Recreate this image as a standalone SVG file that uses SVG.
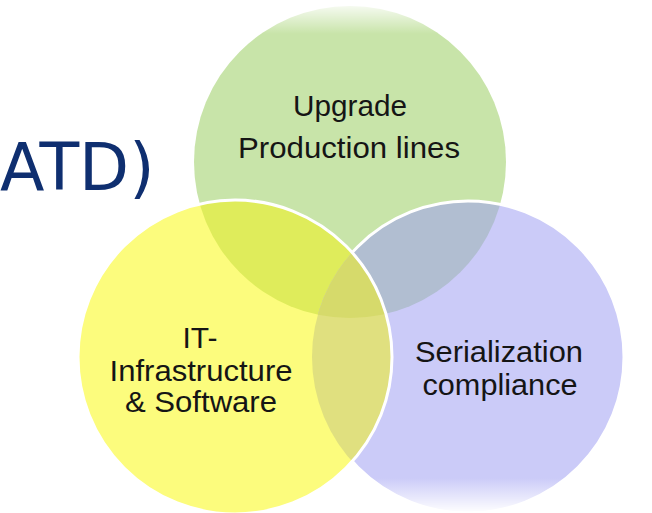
<svg xmlns="http://www.w3.org/2000/svg" width="652" height="513" viewBox="0 0 652 513">
<style>
.lbl{font-family:"Liberation Sans",Arial,sans-serif;font-size:30px;fill:#151515;text-anchor:middle}
.sm{font-size:29px}
.ttl{font-family:"DejaVu Sans",Verdana,sans-serif;font-size:65px;fill:#0f2f70}
</style>
<defs>
<clipPath id="cG"><circle cx="350" cy="162" r="156"/></clipPath>
<clipPath id="cY"><circle cx="235" cy="357" r="157"/></clipPath>
<clipPath id="cB"><circle cx="468" cy="357" r="156"/></clipPath>
<clipPath id="notY"><path clip-rule="evenodd" d="M0 0H652V513H0Z M78 357a157 157 0 1 0 314 0a157 157 0 1 0 -314 0Z"/></clipPath>
<linearGradient id="fadeTop" x1="0" y1="0" x2="0" y2="1">
<stop offset="0" stop-color="#fff" stop-opacity="1"/>
<stop offset="1" stop-color="#fff" stop-opacity="0"/>
</linearGradient>
<linearGradient id="fadeBot" x1="0" y1="0" x2="0" y2="1">
<stop offset="0" stop-color="#fff" stop-opacity="0"/>
<stop offset="1" stop-color="#fff" stop-opacity="1"/>
</linearGradient>
</defs>
<rect width="652" height="513" fill="#fff"/>
<g id="title"><text class="ttl" x="0" y="190">ATD)</text></g>
<g id="circle-green">
<circle cx="350" cy="162" r="156" fill="#c8e4a9"/>
<rect x="180" y="0" width="340" height="34" fill="url(#fadeTop)"/>
</g>
<g id="circle-blue">
<circle cx="468" cy="357" r="156" fill="#cbcbf8"/>
<rect x="300" y="478" width="340" height="35" fill="url(#fadeBot)"/>
</g>
<g id="circle-yellow">
<circle cx="235" cy="357" r="157" fill="#fcfc7d"/>
</g>
<g id="overlaps">
<g clip-path="url(#cG)"><circle cx="235" cy="357" r="157" fill="#dfec5b"/></g>
<g clip-path="url(#cG)"><circle cx="468" cy="357" r="156" fill="#b1bed1"/></g>
<g clip-path="url(#cY)"><circle cx="468" cy="357" r="156" fill="#e0e07f"/></g>
<g clip-path="url(#cY)"><g clip-path="url(#cB)"><circle cx="350" cy="162" r="156" fill="#d6da6b"/></g></g>
</g>
<g id="outlines">
<circle cx="468" cy="357" r="156" fill="none" stroke="#fff" stroke-width="3" clip-path="url(#notY)"/>
<circle cx="235" cy="357" r="157" fill="none" stroke="#fff" stroke-width="3"/>
</g>
<g id="label-green">
<text class="lbl" x="350" y="116" textLength="114" lengthAdjust="spacingAndGlyphs">Upgrade</text>
<text class="lbl" x="349" y="158" textLength="222" lengthAdjust="spacingAndGlyphs">Production lines</text>
</g>
<g id="label-yellow">
<text class="lbl" x="200" y="348">IT-</text>
<text class="lbl" x="201" y="381" textLength="183" lengthAdjust="spacingAndGlyphs">Infrastructure</text>
<text class="lbl" x="201" y="412" textLength="152" lengthAdjust="spacingAndGlyphs">&amp; Software</text>
</g>
<g id="label-blue">
<text class="lbl sm" x="499" y="362" textLength="168" lengthAdjust="spacingAndGlyphs">Serialization</text>
<text class="lbl sm" x="500" y="395" textLength="155" lengthAdjust="spacingAndGlyphs">compliance</text>
</g>
</svg>
